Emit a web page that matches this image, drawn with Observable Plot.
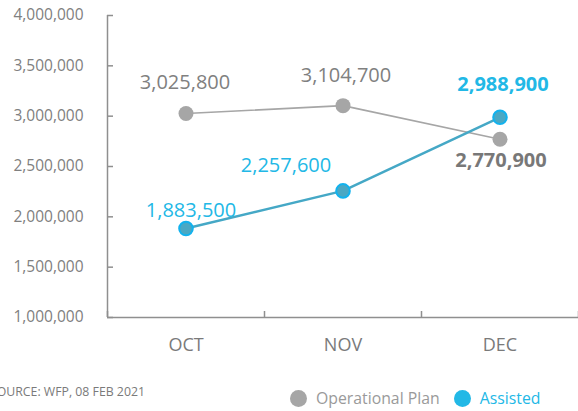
<!DOCTYPE html>
<html>
<head>
<meta charset="utf-8">
<script src="https://cdn.jsdelivr.net/npm/d3@7"></script>
<script src="https://cdn.jsdelivr.net/npm/@observablehq/plot@0.6"></script>
<style>
  html, body { margin: 0; padding: 0; background: #fff; }
  #wrap { position: relative; width: 578px; height: 411px; overflow: hidden; font-family: "Open Sans", sans-serif; }
  #chart svg { display: block; }
  #source { position: absolute; right: 433px; top: 383px; font-size: 12.3px; color: #7a7a7a; white-space: nowrap; }
  #legend { position: absolute; left: 290px; top: 387px; display: flex; align-items: center; font-size: 15.8px; white-space: nowrap; }
  .sw { width: 17px; height: 17px; border-radius: 50%; display: inline-block; margin-right: 9px; }
  .item { display: flex; align-items: center; margin-right: 14px; }
</style>
</head>
<body>
<div id="wrap">
  <div id="chart"></div>
  <div id="source">SOURCE: WFP, 08 FEB 2021</div>
  <div id="legend">
    <span class="item"><span class="sw" style="background:#a6a6a6"></span><span style="color:#9a9a9a">Operational Plan</span></span>
    <span class="item"><span class="sw" style="background:#22b8e6"></span><span style="color:#22b8e6">Assisted</span></span>
  </div>
</div>
<script>
const months = ["OCT", "NOV", "DEC"];
const operationalPlan = [3025800, 3104700, 2770900];
const assisted = [1883500, 2257600, 2988900];
const yTicks = [1000000, 1500000, 2000000, 2500000, 3000000, 3500000, 4000000];

const rows = months.map((m, i) => ({month: m, i, x: i + 0.5, op: operationalPlan[i], as: assisted[i]}));
const fmt = d3.format(",");

const GRAY = "#a6a6a6", AXIS = "#8f8f8f", BLUE_LINE = "#45a8c6", BLUE = "#22b8e6";

// label placement (style only)
const opLabels = [
  {dx: -1, dy: -25, weight: "normal", color: "#808080"},
  {dx: 3, dy: -24, weight: "normal", color: "#808080"},
  {dx: 1, dy: 28, weight: "bold", color: "#787878"}
];
const asLabels = [
  {dx: 5, dy: -12, weight: "normal", color: BLUE},
  {dx: -57, dy: -19, weight: "normal", color: BLUE},
  {dx: 3, dy: -26, weight: "bold", color: BLUE}
];

const labelMarks = [];
rows.forEach((r, i) => {
  const o = opLabels[i];
  labelMarks.push(Plot.text([r], {x: "x", y: "op", text: d => fmt(d.op), dx: o.dx, dy: o.dy, fill: o.color, fontWeight: o.weight, fontSize: 20, lineAnchor: "bottom", textAnchor: "middle"}));
  const a = asLabels[i];
  labelMarks.push(Plot.text([r], {x: "x", y: "as", text: d => fmt(d.as), dx: a.dx, dy: a.dy, fill: a.color, fontWeight: a.weight, fontSize: 20, lineAnchor: "bottom", textAnchor: "middle"}));
});

const chart = Plot.plot({
  width: 578,
  height: 365,
  marginLeft: 107,
  marginRight: 0,
  marginTop: 15,
  marginBottom: 48,
  style: {fontFamily: "Open Sans, sans-serif", background: "#fff"},
  x: {domain: [0, 3]},
  y: {domain: [1000000, 4000000]},
  marks: [
    Plot.axisY({ticks: yTicks, tickFormat: d3.format(","), tickSize: -6, tickPadding: 30, stroke: AXIS, strokeWidth: 1.5, fill: "#808080", fontSize: 15.5, label: null}),
    Plot.axisX({ticks: [0.5, 1.5, 2.5], tickFormat: v => months[Math.floor(v)], tickSize: 0, tickPadding: 21, fill: "#7a7a7a", fontSize: 18, label: null}),
    Plot.axisX({ticks: [0, 1, 2, 3], tickFormat: () => "", tickSize: -6, stroke: AXIS, strokeWidth: 1.5, label: null}),
    Plot.ruleX([0], {stroke: AXIS, strokeWidth: 1.5}),
    Plot.ruleY([1000000], {stroke: AXIS, strokeWidth: 1.5}),
    Plot.line(rows, {x: "x", y: "op", stroke: GRAY, strokeWidth: 1.6}),
    Plot.line(rows, {x: "x", y: "as", stroke: BLUE_LINE, strokeWidth: 2.5}),
    Plot.dot(rows, {x: "x", y: "op", r: 7.5, fill: GRAY, stroke: "none"}),
    Plot.dot(rows, {x: "x", y: "as", r: 6.8, fill: "#4aa8c4", stroke: "#12b2ee", strokeWidth: 2}),
    ...labelMarks
  ]
});
document.getElementById("chart").appendChild(chart);
</script>
</body>
</html>
